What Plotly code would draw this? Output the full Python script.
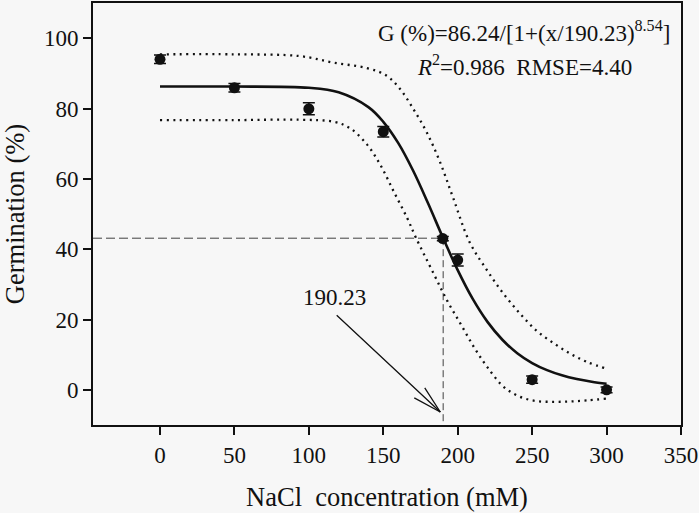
import plotly.graph_objects as go

# ---- data ----
nacl = [0, 50, 100, 150, 190, 200, 250, 300]
germ = [94.0, 85.9, 79.9, 73.4, 43.0, 36.9, 2.9, 0.0]
germ_err = [1.2, 1.2, 1.7, 1.5, 0.6, 1.7, 1.0, 0.8]

fit_x = [0, 50, 100, 120, 140, 150, 160, 170, 180, 190, 200, 210, 220, 230, 240, 250, 260, 270, 280, 290, 300]
fit_y = [86.24, 86.24, 85.89, 84.59, 80.38, 76.22, 70.22, 62.36, 53.12, 43.34, 34.03, 25.92,
         19.33, 14.24, 10.42, 7.62, 5.60, 4.13, 3.06, 2.29, 1.73]

upper_x = [0, 50, 94, 117, 139, 152, 161, 170, 179, 188, 197, 208, 220, 231, 242, 253, 265, 276, 287, 300]
upper_y = [95.4, 95.4, 94.9, 93.0, 91.5, 89.4, 85.7, 80.0, 73.4, 64.9, 54.5, 42.0, 33.8, 27.2,
           21.6, 16.8, 13.1, 10.2, 7.9, 6.0]

lower_x = [0, 50, 94, 117, 128, 139, 148, 157, 166, 172, 184, 193, 202, 211, 220, 231, 242, 253,
           265, 276, 287, 300]
lower_y = [76.7, 76.7, 76.8, 76.2, 74.3, 69.8, 64.0, 56.4, 48.9, 43.2, 32.9, 25.3, 18.7, 12.1,
           6.4, 0.8, -2.0, -3.2, -3.4, -3.3, -3.0, -2.5]

G_MAX = 86.24
X50 = 190.23
X_RANGE = [-45, 350]
Y_RANGE = [-10, 110]
x_ticks = [0, 50, 100, 150, 200, 250, 300, 350]
y_ticks = [0, 20, 40, 60, 80, 100]

# label arrow: from under the "190.23" label to the x50 line
ARROW_TAIL = (117.7, 21.6)
ARROW_TIP = (188.3, -6.3)

FONT = "'Liberation Serif', 'Times New Roman', 'DejaVu Serif', serif"
BG = "#f7f7f7"
INK = "#111111"

fig = go.Figure()

# reference dashed lines at the half-maximum point
fig.add_trace(go.Scatter(x=[X_RANGE[0], X50], y=[G_MAX / 2, G_MAX / 2], mode="lines",
                         line=dict(color="#404040", width=1, dash="9px,4px"),
                         hoverinfo="skip", showlegend=False))
fig.add_trace(go.Scatter(x=[X50, X50], y=[G_MAX / 2, Y_RANGE[0]], mode="lines",
                         line=dict(color="#404040", width=1, dash="7px,4px"),
                         hoverinfo="skip", showlegend=False))

# confidence bands
fig.add_trace(go.Scatter(x=upper_x, y=upper_y, mode="lines", line_shape="spline",
                         line=dict(color=INK, width=2.3, dash="2px,4.5px"),
                         showlegend=False))
fig.add_trace(go.Scatter(x=lower_x, y=lower_y, mode="lines", line_shape="spline",
                         line=dict(color=INK, width=2.3, dash="2px,4.5px"),
                         showlegend=False))

# fitted curve
fig.add_trace(go.Scatter(x=fit_x, y=fit_y, mode="lines", line_shape="spline",
                         line=dict(color=INK, width=2.6), showlegend=False))

# observations
fig.add_trace(go.Scatter(x=nacl, y=germ, mode="markers",
                         marker=dict(color=INK, size=11),
                         error_y=dict(type="data", array=germ_err, color=INK,
                                      thickness=1.5, width=6),
                         showlegend=False))

fig.add_annotation(x=244.8, y=101.8, xref="x", yref="y",
                   text="G (%)=86.24/[1+(x/190.23)<sup>8.54</sup>]",
                   showarrow=False, font=dict(family=FONT, size=23, color=INK))
fig.add_annotation(x=245, y=92.2, xref="x", yref="y",
                   text="<i>R</i><sup>2</sup>=0.986 &nbsp;RMSE=4.40",
                   showarrow=False, font=dict(family=FONT, size=23, color=INK))
fig.add_annotation(x=117.3, y=26.2, xref="x", yref="y", text="190.23",
                   showarrow=False, font=dict(family=FONT, size=23, color=INK))

# arrow shaft
fig.add_annotation(x=ARROW_TIP[0], y=ARROW_TIP[1], xref="x", yref="y",
                   ax=ARROW_TAIL[0], ay=ARROW_TAIL[1], axref="x", ayref="y",
                   text="", showarrow=True, arrowhead=0, arrowwidth=1.3, arrowcolor=INK)
# open arrow head barbs (pixel offsets from the tip)
for bx, by in [(-27.5, -15.0), (-16.5, -25.7)]:
    fig.add_annotation(x=ARROW_TIP[0], y=ARROW_TIP[1], xref="x", yref="y",
                       ax=bx, ay=by, axref="pixel", ayref="pixel",
                       text="", showarrow=True, arrowhead=0, arrowwidth=1.3, arrowcolor=INK)

axis_common = dict(showline=True, linecolor=INK, linewidth=2, mirror=True,
                   ticks="outside", ticklen=8, tickwidth=1.5, tickcolor=INK,
                   showgrid=False, zeroline=False,
                   tickfont=dict(family=FONT, size=23, color=INK))

fig.update_xaxes(range=X_RANGE, tickvals=x_ticks, ticktext=[str(v) for v in x_ticks],
                 title=dict(text="NaCl &nbsp;concentration (mM)",
                            font=dict(family=FONT, size=26.5, color=INK), standoff=21),
                 **axis_common)
fig.update_yaxes(range=Y_RANGE, tickvals=y_ticks, ticktext=[str(v) for v in y_ticks],
                 title=dict(text="Germination (%)",
                            font=dict(family=FONT, size=26.5, color=INK), standoff=13),
                 **axis_common)

fig.update_layout(width=699, height=513, margin=dict(l=93, r=18, t=1, b=88),
                  paper_bgcolor=BG, plot_bgcolor=BG, showlegend=False,
                  font=dict(family=FONT, color=INK))

fig.write_html("out.html", config={"displayModeBar": False},
               post_script="document.body.style.margin='0';document.body.style.background='#f7f7f7';")
